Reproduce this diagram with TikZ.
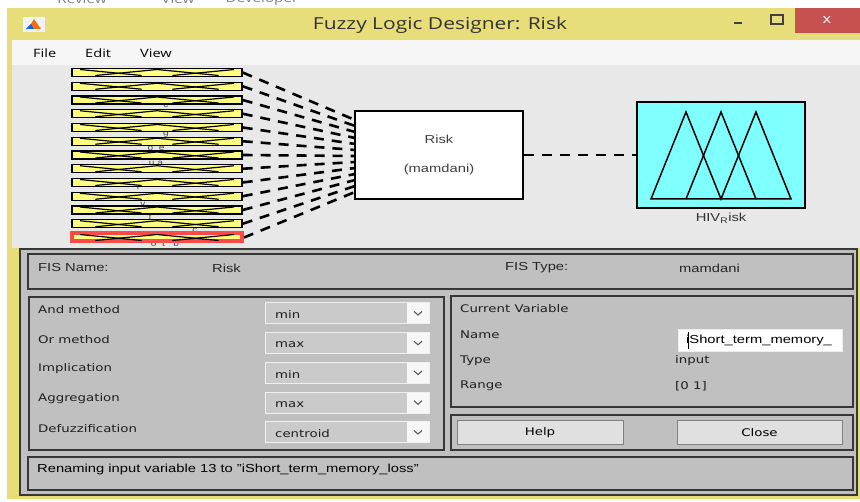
\documentclass[tikz,border=0pt]{standalone}
\usepackage{fontspec}
\setmainfont{Liberation Sans}[FakeStretch=1.27]
\newfontfamily\guifont{DejaVu Sans}[FakeStretch=1.27]
\newfontfamily\winfont{Open Sans}[FakeStretch=1.27]
\usetikzlibrary{positioning}

\definecolor{frameyellow}{RGB}{231,221,122}
\definecolor{closered}{RGB}{199,80,80}
\definecolor{menubg}{RGB}{246,246,247}
\definecolor{plotbg}{RGB}{232,232,232}
\definecolor{panelgray}{RGB}{192,192,192}
\definecolor{edgegray}{RGB}{55,55,55}
\definecolor{dropgray}{RGB}{202,202,202}
\definecolor{btngray}{RGB}{224,224,224}
\definecolor{mfyellow}{RGB}{255,255,128}
\definecolor{selred}{RGB}{255,74,74}
\definecolor{outcyan}{RGB}{128,255,255}

\tikzset{
  inbox/.style={draw=black, line width=1.4pt, fill=mfyellow, minimum width=170pt, minimum height=8pt, inner sep=0pt},
  selbox/.style={inbox, draw=selred, line width=4pt},
  mfline/.style={line width=1.2pt},
  rule/.style={line width=2.6pt, dash pattern=on 10pt off 8pt},
  panel/.style={draw=edgegray, line width=1.3pt, fill=panelgray},
  lbl/.style={font=\guifont\fontsize{10.5}{12}\selectfont, anchor=west, inner sep=0pt, text=black!88},
  txt/.style={font=\fontsize{11.6}{14}\selectfont, anchor=west, inner sep=0pt, text=black!85},
  dropbox/.style={draw=white!88!gray, line width=1pt, fill=dropgray, minimum width=164pt, minimum height=21pt, inner sep=0pt},
  dropbtn/.style={fill=white!94!gray, minimum width=22pt, minimum height=20pt, inner sep=0pt},
  chev/.style={line width=1.1pt, draw=black!65},
  pushbtn/.style={draw=gray, line width=1pt, fill=btngray, minimum height=24pt, inner sep=0pt, font=\guifont\fontsize{10.5}{12}\selectfont}
}

\begin{document}
\begin{tikzpicture}[x=1pt, y=-1pt]
\useasboundingbox (0,0) rectangle (860,502);
\clip (0,0) rectangle (860,502);
\fill[white] (0,0) rectangle (860,502);

% ribbon tabs behind the window
\foreach \tab/\xx in {Review/82, View/178, Developer/262}
  \node[font=\winfont\fontsize{12}{14}\selectfont, text=gray] (tab\tab) at (\xx,-1) {\tab};

% window frame, title bar and menu
\fill[frameyellow] (7,8) rectangle (860,499);
\fill[white!90!gray] (23,17) rectangle (45,32);
\fill[orange!85!red] (28,29) -- (34,19) -- (41,29) -- cycle;
\fill[blue!60!cyan] (26,29) -- (31,24) -- (34,29) -- cycle;
\node[font=\winfont\fontsize{16.5}{18}\selectfont, text=black!80] (title) at (440,25) {Fuzzy Logic Designer: Risk};
\draw[line width=2pt, black!75] (734,23) -- (742,23);
\draw[line width=1.3pt, black!75] (771,15) rectangle (783,24);
\fill[closered] (795,8) rectangle (860,33);
\node[font=\winfont\fontsize{13}{14}\selectfont, text=white] (closex) at (827,20) {x};

\fill[menubg] (12,40) rectangle (860,65);
\foreach \item/\xx in {File/33, Edit/85, View/140}
  \node[font=\winfont\fontsize{11.5}{13}\selectfont, anchor=west, inner sep=0pt] (menu\item) at (\xx,53) {\item};

% fis diagram
\fill[plotbg] (12,65) rectangle (860,248);

% clipped input names under the boxes
\foreach \frag/\xx/\yy in {c/166/105, g/166/134, o\ \ e/156/148, u\ a/156/163, I/138/187, v/143/204, f/150/217, c/195/230, o\ \ t\ \ \ b/165/244}
  \node[font=\fontsize{8}{9}\selectfont, text=black!70, inner sep=0pt] at (\xx,\yy) {\frag};

\foreach \i in {0,...,11}
  \node[inbox] (in\i) at (157,72.5+13.75*\i) {};
\node[selbox] (in12) at (157,237.5) {};

% three triangles per input
\foreach \i in {0,...,12}{
  \pgfmathsetmacro\yy{72.5+13.75*\i}
  \draw[mfline] (80,\yy-3) -- (141.6,\yy+3);
  \draw[mfline] (95.4,\yy+3) -- (157,\yy-3) -- (218.6,\yy+3);
  \draw[mfline] (172.4,\yy+3) -- (234,\yy-3);
}

\foreach \i in {0,...,12}{
  \coordinate (rin\i) at (355,120+6*\i);
  \draw[rule] (in\i.east) -- (rin\i);
}

\node[draw, line width=2.6pt, fill=white, minimum width=168pt, minimum height=88pt, align=center,
  font=\fontsize{11.6}{14}\selectfont, text=black!75] (risk) at (439,155) {Risk\\[15pt](mamdani)};

\node[draw, line width=1.5pt, fill=outcyan, minimum width=168pt, minimum height=106pt] (outbox) at (721,155) {};
\draw[line width=1.5pt] (651,199) -- (686,112) -- (721,199) -- (756,112) -- (791,199) -- cycle;
\draw[line width=1.5pt] (686,199) -- (721,112) -- (756,199);
\node[below=4pt of outbox, inner sep=0pt, font=\fontsize{11.6}{14}\selectfont, text=black!80] (outname) {HIV\textsubscript{R}isk};

\draw[rule] (risk.east) -- (outbox.west);

% lower panels
\fill[frameyellow] (7,248) rectangle (20,499);
\draw[panel] (20,249) rectangle (857,495);
\draw[panel] (28,254) rectangle (853,289);
\node[txt] (fisname) at (38,268) {FIS Name:};
\node[txt] (fisnameval) at (212,268) {Risk};
\node[txt] (fistype) at (505,268) {FIS Type:};
\node[txt] (fistypeval) at (679,268) {mamdani};

\draw[panel] (29,297) rectangle (444,450);
\foreach \lab/\val [count=\k from 0] in {And method/min, Or method/max, Implication/min, Aggregation/max, Defuzzification/centroid}{
  \pgfmathsetmacro\yy{313.5+29.75*\k}
  \node[lbl] (meth\k) at (38,\yy-4) {\lab};
  \node[dropbox] (drop\k) at (347,\yy) {};
  \node[dropbtn, anchor=east] (dropbtn\k) at ([xshift=-0.5pt]drop\k.east) {};
  \draw[chev] (414,\yy-2) -- (418,\yy+1.5) -- (422,\yy-2);
  \node[lbl] (val\k) at (275,\yy+1.5) {\val};
}

\draw[panel] (451,296) rectangle (853,407);
\node[lbl] (curvar) at (460,309) {Current Variable};
\node[lbl] (namelbl) at (460,335) {Name};
\node[lbl] (typelbl) at (460,361) {Type};
\node[lbl] (rangelbl) at (460,386) {Range};
\node[draw=white!85!gray, fill=white, minimum width=164pt, minimum height=22pt] (namefield) at (760,340) {};
\node[txt, text=black] (nameval) at (686,341) {iShort\_term\_memory\_};
\draw[line width=1pt] (688.5,332) -- (688.5,349);
\node[lbl] (typeval) at (675,361) {input};
\node[lbl] (rangeval) at (675,386) {[0 1]};

\draw[panel] (451,415) rectangle (853,450);
\node[pushbtn, minimum width=166pt] (help) at (540,433) {Help};
\node[pushbtn, minimum width=165pt] (close) at (759.5,433) {Close};

\draw[panel] (28,457) rectangle (853,490);
\node[txt, text=black] (status) at (37,470) {Renaming input variable 13 to "iShort\_term\_memory\_loss"};
\end{tikzpicture}
\end{document}
